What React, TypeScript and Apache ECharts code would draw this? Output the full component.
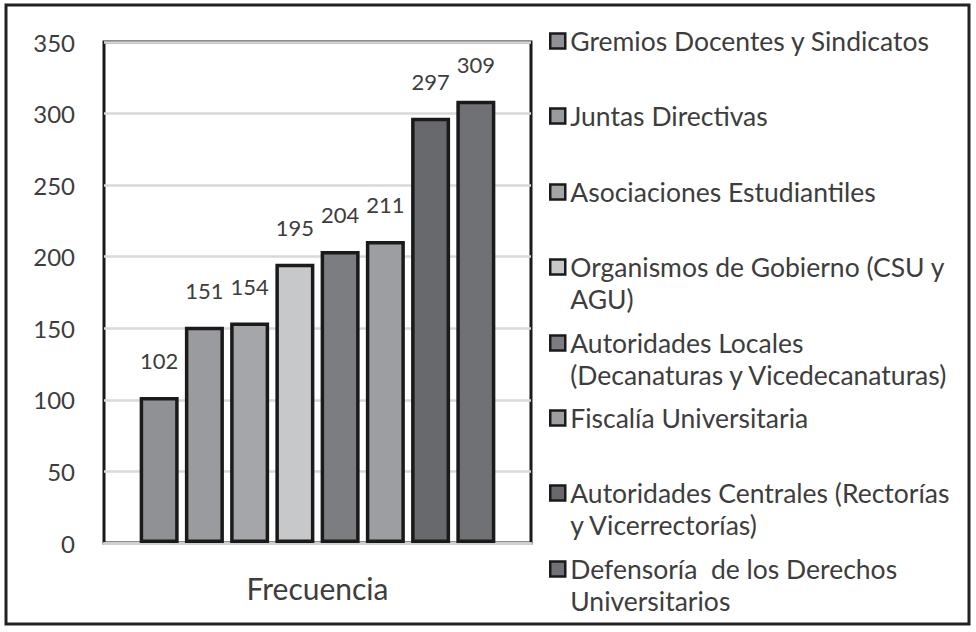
import React, { useEffect, useRef } from 'react';
import * as echarts from 'echarts';

const categories = ['Frecuencia'];
const seriesNames = [
  'Gremios Docentes y Sindicatos',
  'Juntas Directivas',
  'Asociaciones Estudiantiles',
  'Organismos de Gobierno (CSU y AGU)',
  'Autoridades Locales (Decanaturas y Vicedecanaturas)',
  'Fiscalía Universitaria',
  'Autoridades Centrales (Rectorías y Vicerrectorías)',
  'Defensoría  de los Derechos Universitarios',
];
// legend text as wrapped in the original
const legendLabels = [
  'Gremios Docentes y Sindicatos',
  'Juntas Directivas',
  'Asociaciones Estudiantiles',
  'Organismos de Gobierno (CSU y\nAGU)',
  'Autoridades Locales\n(Decanaturas y Vicedecanaturas)',
  'Fiscalía Universitaria',
  'Autoridades Centrales (Rectorías\ny Vicerrectorías)',
  'Defensoría  de los Derechos\nUniversitarios',
];
const values = [102, 151, 154, 195, 204, 211, 297, 309];
const barColors = ['#909194', '#9a9b9e', '#a5a6a9', '#c7c8ca', '#7c7d81', '#9d9ea2', '#68696d', '#707175'];
const yMin = 0;
const yMax = 350;
const yStep = 50;

const FONT = 'Lato, "Open Sans", sans-serif';
const TEXT = '#3d3d3d';
const LEGEND_LINE = 32;

const App: React.FC = () => {
  const chartRef = useRef<HTMLDivElement>(null);

  useEffect(() => {
    if (!chartRef.current) return;
    const chart = echarts.init(chartRef.current, undefined, { renderer: 'svg' });

    const option: echarts.EChartsCoreOption = {
      animation: false,
      backgroundColor: '#ffffff',
      textStyle: { fontFamily: FONT },
      grid: {
        left: 104,
        top: 42,
        right: 445,
        bottom: 89,
        show: true,
        borderColor: '#1a1a1a',
        borderWidth: 3,
        backgroundColor: 'transparent',
      },
      graphic: [
        {
          type: 'rect',
          shape: { x: 6, y: 5, width: 963, height: 619 },
          style: { fill: 'none', stroke: '#222222', lineWidth: 3 },
          silent: true,
        },
      ],
      // one legend per item so every icon sits on the first line of its text
      legend: seriesNames.map((name, i) => {
        const twoLines = legendLabels[i].includes('\n');
        const center = 41 + i * 75.4;
        return {
          data: [name],
          left: 549,
          top: Math.round(center - (twoLines ? 1.5 : 0.5) * LEGEND_LINE),
          padding: 0,
          orient: 'vertical',
          icon: 'rect',
          itemWidth: 15,
          itemHeight: 15,
          selectedMode: false,
          itemStyle: { borderColor: '#1a1a1a', borderWidth: 2.5 },
          formatter: () => (twoLines ? '\n' + legendLabels[i] : legendLabels[i]),
          textStyle: {
            fontFamily: FONT,
            fontSize: 26.5,
            color: TEXT,
            lineHeight: LEGEND_LINE,
          },
        };
      }),
      xAxis: {
        type: 'category',
        data: categories,
        axisLine: { lineStyle: { color: '#d0d0d0', width: 3 } },
        axisTick: { show: false },
        axisLabel: { fontSize: 30, color: TEXT, margin: 30, fontFamily: FONT },
      },
      yAxis: {
        type: 'value',
        min: yMin,
        max: yMax,
        interval: yStep,
        axisLine: { show: false },
        axisTick: { show: false },
        axisLabel: { fontSize: 24, color: TEXT, margin: 29, fontFamily: FONT },
        splitLine: { lineStyle: { color: '#d9d9d9', width: 2.5 } },
      },
      series: seriesNames.map((name, i) => ({
        name,
        type: 'bar',
        data: [values[i]],
        barWidth: 39,
        barGap: '16%',
        itemStyle: { color: barColors[i], borderColor: '#1a1a1a', borderWidth: 3.5 },
        label: {
          show: true,
          position: 'top',
          distance: 25,
          fontSize: 22,
          color: TEXT,
          fontFamily: FONT,
        },
      })),
    };

    chart.setOption(option);
    return () => chart.dispose();
  }, []);

  return (
    <div
      ref={chartRef}
      style={{ position: 'fixed', left: 0, top: 0, width: '976px', height: '632px', background: '#fff' }}
    />
  );
};

export default App;
